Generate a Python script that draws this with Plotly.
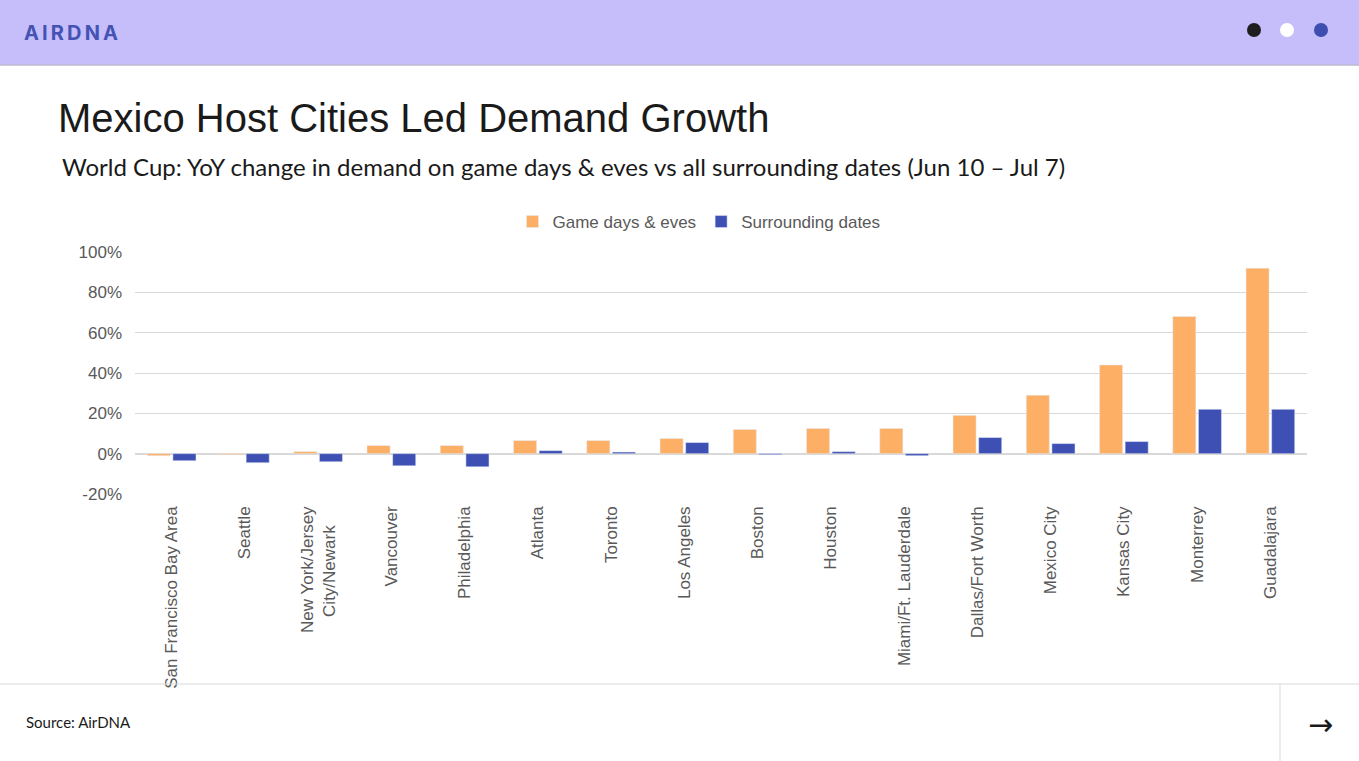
import plotly.graph_objects as go

# 도시 목록과 YoY 수요 변화 (%)
nb = "\u00a0"
cities = ["San Francisco Bay Area", "Seattle", "New York/Jersey<br>City/Newark" + nb * 4, "Vancouver",
          "Philadelphia", "Atlanta", "Toronto", "Los Angeles", "Boston", "Houston",
          "Miami/Ft. Lauderdale", "Dallas/Fort Worth", "Mexico City", "Kansas City",
          "Monterrey", "Guadalajara"]
game_days = [-1, -0.5, 1, 4, 4, 6.5, 6.5, 7.5, 12, 12.5, 12.5, 19, 29, 44, 68, 92]
surrounding = [-3.5, -4.5, -4, -6, -6.5, 1.5, 0.8, 5.5, -0.5, 1, -1, 8, 5, 6, 22, 22]
y_ticks = [-20, 0, 20, 40, 60, 80, 100]

W, H = 1359, 761
L, R, T, B = 135, 1307, 252, 494   # 플롯 영역 (픽셀)


def px(x):
    return (x - L) / (R - L)


def py(y):
    return (B - y) / (B - T)


fig = go.Figure()
fig.add_trace(go.Bar(x=cities, y=game_days, name="Game days & eves", marker_color="#FDAF65"))
fig.add_trace(go.Bar(x=cities, y=surrounding, name="Surrounding dates", marker_color="#3E50B4"))

grey = "#595959"
shapes = [
    # 상단 헤더
    dict(type="rect", xref="paper", yref="paper", x0=px(0), x1=px(W), y0=py(0), y1=py(65),
         fillcolor="#C5BEFA", line_width=0, layer="below"),
    dict(type="line", xref="paper", yref="paper", x0=px(0), x1=px(W), y0=py(65), y1=py(65),
         line=dict(color="#BDBACF", width=1.5)),
    # 하단 푸터
    dict(type="line", xref="paper", yref="paper", x0=px(0), x1=px(W), y0=py(684), y1=py(684),
         line=dict(color="#D9D9D9", width=1)),
    dict(type="line", xref="paper", yref="paper", x0=px(1280), x1=px(1280), y0=py(684), y1=py(H),
         line=dict(color="#D9D9D9", width=1)),
]
for cx, col in [(1254, "#1E1E1E"), (1287, "#FFFFFF"), (1321, "#3D4DB0")]:
    shapes.append(dict(type="circle", xref="paper", yref="paper",
                       x0=px(cx - 7), x1=px(cx + 7), y0=py(30 - 7), y1=py(30 + 7),
                       fillcolor=col, line_width=0))

annotations = [
    dict(text="A\u2009I\u2009R\u2009D\u2009N\u2009A", x=px(22), y=py(33), xanchor="left", yanchor="middle",
         font=dict(family="Inter", size=20, color="#4453B3", weight="bold")),
    dict(text="Mexico Host Cities Led Demand Growth", x=px(56), y=py(118), xanchor="left", yanchor="middle",
         font=dict(family="Liberation Sans", size=40, color="#1A1A1A")),
    dict(text="World Cup: YoY change in demand on game days & eves vs all surrounding dates (Jun 10 \u2013 Jul 7)",
         x=px(60), y=py(166), xanchor="left", yanchor="middle",
         font=dict(family="Lato", size=24, color="#1A1A1A")),
    dict(text="Source: AirDNA", x=px(24), y=py(722), xanchor="left", yanchor="middle",
         font=dict(family="Lato", size=15, color="#1A1A1A")),
    dict(text="\u2192", x=px(1320), y=py(724), xanchor="center", yanchor="middle",
         font=dict(family="DejaVu Sans", size=30, color="#1A1A1A")),
]
for a in annotations:
    a.update(xref="paper", yref="paper", showarrow=False)

fig.update_layout(
    width=W, height=H,
    margin=dict(l=L, r=W - R, t=T, b=H - B, autoexpand=False),
    paper_bgcolor="white", plot_bgcolor="white",
    font=dict(family="Liberation Sans", size=17, color=grey),
    barmode="group", bargap=0.3, bargroupgap=0.1,
    showlegend=True,
    legend=dict(orientation="h", x=px(699), xanchor="center", y=py(222), yanchor="middle",
                font=dict(size=17, color=grey), itemwidth=30, traceorder="normal"),
    shapes=shapes, annotations=annotations,
)
fig.update_yaxes(range=[-20, 100], tickvals=y_ticks, ticktext=[f"{v}%" for v in y_ticks],
                 showgrid=True, gridcolor="#D9D9D9", gridwidth=1, zeroline=True,
                 zerolinecolor="#D9D9D9", zerolinewidth=2, ticklabelstandoff=12,
                 tickfont=dict(size=17, color=grey))
fig.update_xaxes(tickangle=-90, showline=False, ticks="", ticklabelstandoff=8,
                 tickfont=dict(size=17, color=grey))

# 페이지 기본 여백 제거
fig.write_html("out.html", config={"displayModeBar": False},
               post_script="document.body.style.margin='0';")
